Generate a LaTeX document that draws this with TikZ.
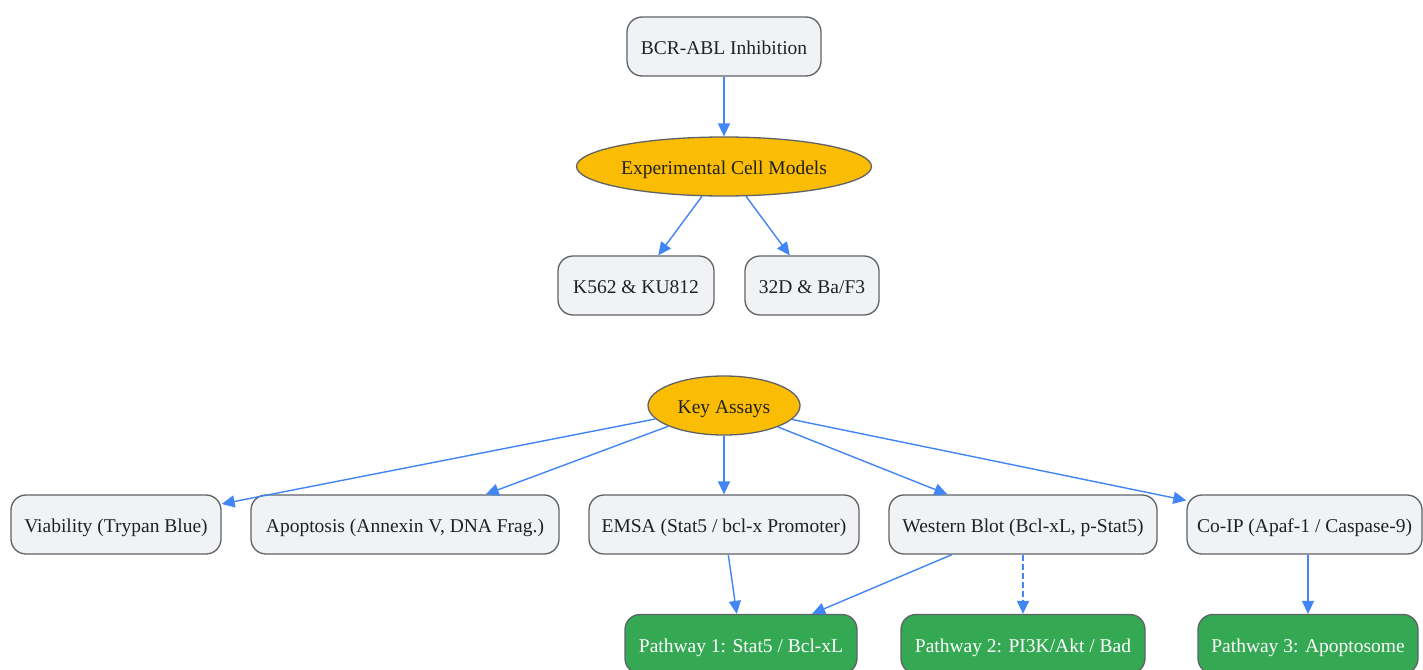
\documentclass[tikz,border=0pt]{standalone}
\usepackage{fontspec}
\setmainfont{Liberation Serif}
\usetikzlibrary{arrows.meta,shapes.geometric}
\definecolor{boxfill}{HTML}{F1F2F4}
\definecolor{boxdraw}{HTML}{5F6368}
\definecolor{ellfill}{HTML}{FBBC04}
\definecolor{grn}{HTML}{34A853}
\definecolor{arr}{HTML}{4285F4}
\definecolor{txt}{HTML}{202124}
\tikzset{
  x=1pt, y=-1pt,
  base/.style={draw=boxdraw, line width=1.3pt, minimum height=59pt, inner sep=0pt,
    font=\fontsize{19.5}{22}\selectfont, text=txt, text height=17pt, text depth=1pt},
  gbox/.style={base, rectangle, rounded corners=15pt, fill=boxfill},
  ebox/.style={base, ellipse, fill=ellfill},
  pbox/.style={base, rectangle, rounded corners=15pt, fill=grn, text=white},
  conn/.style={draw=arr, line width=1.4pt, -{Triangle[length=13pt,width=12pt]}},
}
\begin{document}
\begin{tikzpicture}
\useasboundingbox[fill=white] (0,0) rectangle (1423,669);
\node[gbox, minimum width=194pt] (bcr) at (724,46.5) {BCR-ABL Inhibition};
\node[ebox, minimum width=295pt] (exp) at (724,166.5) {Experimental Cell Models};
\node[gbox, minimum width=156pt] (k562) at (636,285.5) {K562 \& KU812};
\node[gbox, minimum width=134pt] (d32) at (812,285.5) {32D \& Ba/F3};
\node[ebox, minimum width=152pt] (key) at (724,405.5) {Key Assays};
\node[gbox, minimum width=210pt] (via) at (116,524.5) {Viability (Trypan Blue)};
\node[gbox, minimum width=308pt] (apo) at (405,524.5) {Apoptosis (Annexin V, DNA Frag.)};
\node[gbox, minimum width=270pt] (emsa) at (724,524.5) {EMSA (Stat5 / bcl-x Promoter)};
\node[gbox, minimum width=268pt] (wb) at (1023,524.5) {Western Blot (Bcl-xL, p-Stat5)};
\node[gbox, minimum width=235pt] (coip) at (1304.5,524.5) {Co-IP (Apaf-1 / Caspase-9)};
\node[pbox, minimum width=232pt] (p1) at (741,644) {Pathway 1: Stat5 / Bcl-xL};
\node[pbox, minimum width=244pt] (p2) at (1023,644) {Pathway 2: PI3K/Akt / Bad};
\node[pbox, minimum width=220pt] (p3) at (1308,644) {Pathway 3: Apoptosome};
\draw[conn] (bcr) -- (exp);
\draw[conn] (exp) -- (k562);
\draw[conn] (exp) -- (d32);
\draw[conn] (key) -- (via);
\draw[conn] (key) -- (apo);
\draw[conn] (key) -- (emsa);
\draw[conn] (key) -- (wb);
\draw[conn] (key) -- (coip);
\draw[conn] (emsa) -- (p1);
\draw[conn] (wb) -- (p1);
\draw[conn, dash pattern=on 6pt off 3pt] (wb) -- (p2);
\draw[conn] (coip.south -| p3) -- (p3);
\end{tikzpicture}
\end{document}
